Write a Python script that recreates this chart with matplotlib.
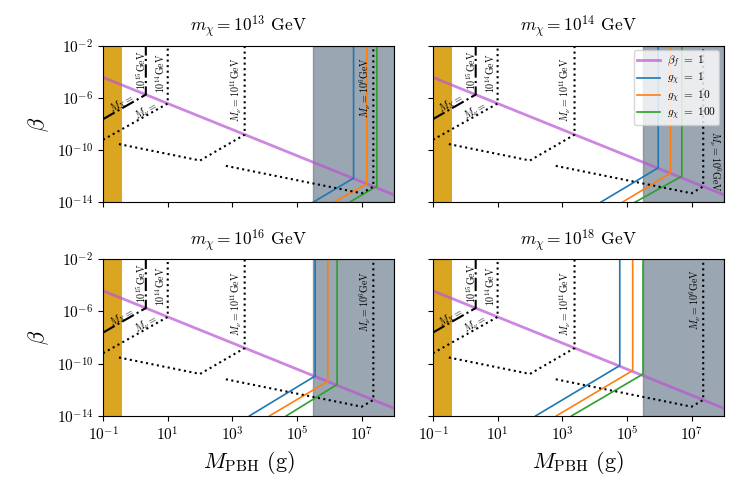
import matplotlib
matplotlib.use("Agg")
import matplotlib.pyplot as plt
import matplotlib.ticker as ticker

plt.rcParams["font.family"] = "serif"
plt.rcParams["font.serif"] = ["cmr10", "DejaVu Serif"]
plt.rcParams["mathtext.fontset"] = "cm"
plt.rcParams["axes.formatter.use_mathtext"] = True

# ---- data ----
masses_chi = ["13", "14", "16", "18"]

# beta_f = 1 line (M in g, beta)
betaf_M = [1e-1, 1e8]
betaf_b = [10**-4.42, 10**-13.42]

# black reference curves (same in all panels)
mx15_M = [0.1, 2.1, 2.1]
mx15_b = [10**-7.62, 10**-5.74, 1.0]
mnu14_M = [0.1, 10.0, 10.0]
mnu14_b = [10**-9.2, 10**-6.42, 1.0]
mnu11_M = [0.31, 100.0, 2400.0, 2400.0]
mnu11_b = [10**-9.53, 10**-10.79, 10**-8.81, 1.0]
mnu6_M = [630.0, 1e7, 2.3e7, 2.3e7]
mnu6_b = [10**-11.2, 10**-13.3, 10**-12.78, 1.0]

# g_chi curves per panel: (bottom M, corner M, corner beta) as log10 values
g1_curves = [(5.49, 6.75, -12.14), (4.18, 5.97, -11.35), (3.53, 5.56, -10.95), (2.18, 4.78, -10.15)]
g10_curves = [(6.13, 7.16, -12.58), (4.85, 6.35, -11.76), (4.15, 5.95, -11.36), (2.82, 5.18, -10.53)]
g100_curves = [(6.62, 7.47, -12.75), (5.24, 6.70, -12.00), (4.67, 6.24, -11.60), (3.29, 5.50, -10.80)]

bbn_band = [0.1, 0.39]
gray_band = [3.1e5, 1e8]

fig, axes = plt.subplots(2, 2, figsize=(7.47, 4.98), dpi=100, sharex=True, sharey=True)
fig.subplots_adjust(left=0.138, right=0.969, top=0.908, bottom=0.165, wspace=0.134, hspace=0.363)

for i, ax in enumerate(axes.flat):
    ax.set_xscale("log")
    ax.set_yscale("log")
    ax.axvspan(bbn_band[0], bbn_band[1], color="goldenrod", zorder=0, lw=0)
    ax.axvspan(gray_band[0], gray_band[1], color="slategray", alpha=0.7, zorder=0)

    ax.plot(betaf_M, betaf_b, color="mediumorchid", alpha=0.7, lw=2, label=r"$\beta_f\ =\ 1$")
    for curves, col, lab in [(g1_curves, "C0", r"$g_\chi\ =\ 1$"),
                             (g10_curves, "C1", r"$g_\chi\ =\ 10$"),
                             (g100_curves, "C2", r"$g_\chi\ =\ 100$")]:
        lb, lc, bc = curves[i]
        ax.plot([10**lb, 10**lc, 10**lc], [1e-14, 10**bc, 1.0], color=col, lw=1.2, label=lab)

    ax.plot(mx15_M, mx15_b, color="k", ls="-.", lw=1.5)
    ax.plot(mnu14_M, mnu14_b, color="k", ls=":", lw=1.5)
    ax.plot(mnu11_M, mnu11_b, color="k", ls=":", lw=1.5)
    ax.plot(mnu6_M, mnu6_b, color="k", ls=":", lw=1.5)

    fs = 7.2
    ax.text(0.38, 10**-6.44, r"$M_X =$", rotation=30, fontsize=fs, ha="center", va="center")
    ax.text(1.5, 10**-3.84, r"$10^{15}$GeV", rotation=90, fontsize=fs, ha="center", va="center")
    ax.text(2.1, 10**-6.98, r"$M_\nu =$", rotation=30, fontsize=fs, ha="center", va="center")
    ax.text(6.0, 10**-4.07, r"$10^{14}$GeV", rotation=90, fontsize=fs, ha="center", va="center")
    ax.text(1300, 10**-5.37, r"$M_\nu = 10^{11}$GeV", rotation=90, fontsize=fs, ha="center", va="center")
    if i == 1:
        ax.text(10**7.7, 10**-10.9, r"$M_\nu = 10^{6}$GeV", rotation=-90, fontsize=fs, ha="center", va="center")
    elif i == 3:
        ax.text(10**7.13, 10**-5.1, r"$M_\nu = 10^{6}$GeV", rotation=90, fontsize=fs, ha="center", va="center")
    else:
        ax.text(10**7.12, 10**-5.2, r"$M_\nu = 10^{6}$GeV", rotation=90, fontsize=fs, ha="center", va="center")

    ax.set_title(r"$m_\chi = 10^{%s}$ GeV" % masses_chi[i], fontsize=12.5, pad=10)
    ax.set_xlim(1e-1, 1e8)
    ax.set_ylim(1e-14, 1e-2)
    ax.xaxis.set_major_locator(ticker.FixedLocator([1e-1, 1e1, 1e3, 1e5, 1e7]))
    ax.yaxis.set_major_locator(ticker.FixedLocator([1e-14, 1e-10, 1e-6, 1e-2]))
    ax.xaxis.set_minor_locator(ticker.NullLocator())
    ax.yaxis.set_minor_locator(ticker.NullLocator())
    ax.tick_params(labelsize=11)

for ax in axes[1]:
    ax.set_xlabel(r"$M_{\rm PBH}$ (g)", fontsize=16)
for ax in axes[:, 0]:
    ax.set_ylabel(r"$\beta$", fontsize=16)

axes[0, 1].legend(loc="upper right", fontsize=8.2, labelspacing=0.05, borderpad=0.3,
                  handletextpad=0.6, borderaxespad=0.4)

plt.savefig("out.png", dpi=100)
plt.close()
